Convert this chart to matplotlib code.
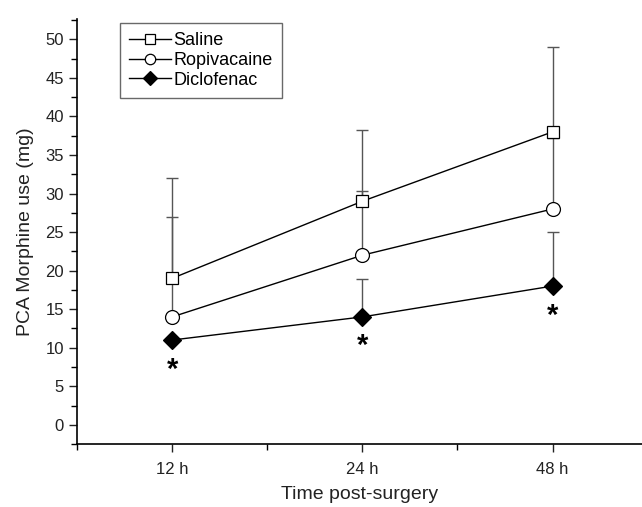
import numpy as np
import matplotlib
matplotlib.use("Agg")
import matplotlib.pyplot as plt
from matplotlib.ticker import MultipleLocator

plt.rcParams['font.family'] = ['Liberation Sans', 'DejaVu Sans']

# data
times = ['12 h', '24 h', '48 h']
saline = [19, 29, 38]
saline_err = [13, 9.3, 11]
ropivacaine = [14, 22, 28]
ropivacaine_err = [13, 8.3, 9.2]
diclofenac = [11, 14, 18]
diclofenac_err = [0, 4.9, 7]
signif = [True, True, True]  # asterisks under diclofenac

x = np.arange(1, len(times) + 1)

fig = plt.figure(figsize=(6.42, 5.07), dpi=100)
ax = fig.add_axes([0.12, 0.124, 0.88, 0.838])

errcol = '#555555'
series = [
    ('Saline', saline, saline_err, 's', 'white', 9),
    ('Ropivacaine', ropivacaine, ropivacaine_err, 'o', 'white', 10),
    ('Diclofenac', diclofenac, diclofenac_err, 'D', 'black', 9),
]

# error bars first (upper only), then lines with markers on top
for name, y, err, m, fc, ms in series:
    lower = np.zeros(len(err))
    ax.errorbar(x, y, yerr=[lower, err], fmt='none', ecolor=errcol,
                elinewidth=1.0, capsize=4, capthick=1.0, zorder=1)
for i, (name, y, err, m, fc, ms) in enumerate(series):
    ax.plot(x, y, color='black', lw=1.0, marker=m, markersize=ms,
            markerfacecolor=fc, markeredgecolor='black', markeredgewidth=0.9,
            label=name, zorder=3 + i)

for xi, yi, s in zip(x, diclofenac, signif):
    if s:
        ax.text(xi, yi - 2.0, '*', ha='center', va='top', fontsize=21,
                fontweight='bold')

ax.set_xlim(0.5, 3.47)
ax.set_ylim(-2.5, 52.6)
ax.set_xticks(x)
ax.set_xticklabels(times)
ax.set_xticks([0.5, 1.5, 2.5], minor=True)
ax.yaxis.set_major_locator(MultipleLocator(5))
ax.yaxis.set_minor_locator(MultipleLocator(2.5))

ax.spines['top'].set_visible(False)
ax.spines['right'].set_visible(False)
for sp in ('left', 'bottom'):
    ax.spines[sp].set_linewidth(1.2)

ax.tick_params(axis='both', which='major', direction='out', length=6,
               width=1.0, labelsize=12, colors='#222222')
ax.tick_params(axis='both', which='minor', direction='out', length=4,
               width=1.0)
ax.tick_params(axis='x', which='major', pad=7)

ax.set_xlabel('Time post-surgery', fontsize=14, labelpad=6, color='#222222')
ax.set_ylabel('PCA Morphine use (mg)', fontsize=14, labelpad=8, color='#222222')

leg = ax.legend(loc='upper left', bbox_to_anchor=(0.06, 1.012), fontsize=13,
                frameon=True, fancybox=False, edgecolor='#444444',
                handlelength=2.3, handletextpad=0.15, labelspacing=0.15,
                borderpad=0.5, markerscale=0.75)
leg.get_frame().set_linewidth(1.0)

fig.savefig('out.png', dpi=100)
